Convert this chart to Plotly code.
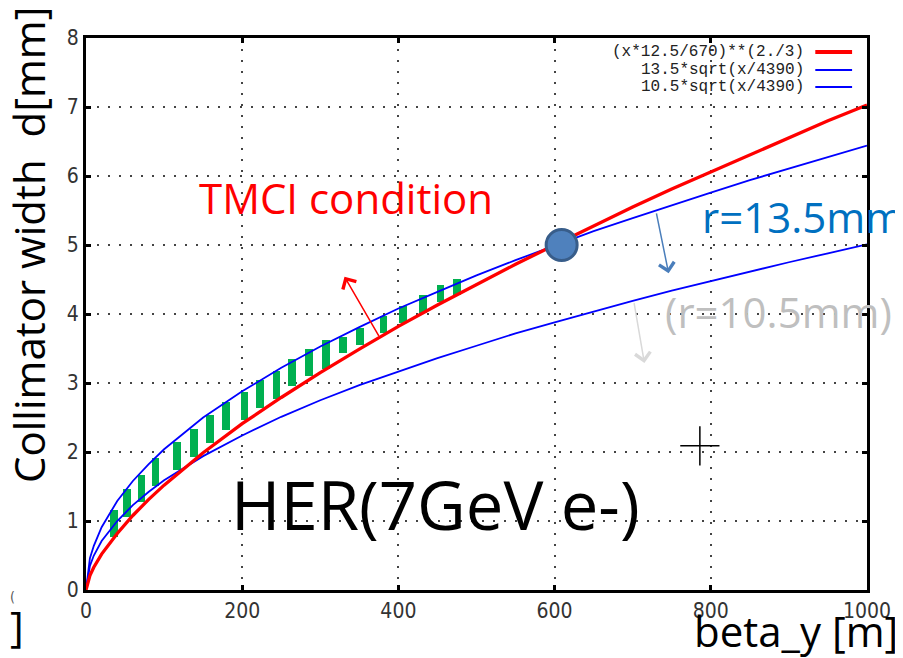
"""
Collimator width vs beta_y for HER (TMCI condition), gnuplot-style figure.
"""

import plotly.graph_objects as go

# --- curve samples ---
beta = [0, 5, 10, 20, 40, 60, 80, 100, 150, 200, 250, 300, 350, 400, 450,
        500, 550, 600, 650, 700, 750, 800, 850, 900, 950, 1000]
tmci = [0, 0.21, 0.33, 0.52, 0.82, 1.08, 1.31, 1.52, 1.99, 2.41, 2.79, 3.15,
        3.49, 3.82, 4.13, 4.43, 4.72, 5.00, 5.28, 5.55, 5.81, 6.06, 6.31,
        6.56, 6.80, 7.03]
r135 = [0, 0.46, 0.64, 0.91, 1.29, 1.58, 1.82, 2.04, 2.50, 2.88, 3.22, 3.53,
        3.81, 4.08, 4.32, 4.56, 4.78, 4.99, 5.20, 5.39, 5.58, 5.76, 5.94,
        6.11, 6.28, 6.44]
r105 = [0, 0.35, 0.50, 0.71, 1.00, 1.23, 1.42, 1.59, 1.94, 2.24, 2.51, 2.75,
        2.97, 3.17, 3.36, 3.54, 3.72, 3.88, 4.04, 4.19, 4.34, 4.48, 4.62,
        4.75, 4.88, 5.01]

# green hatch between the curves
bar_x = [36, 52, 71, 89, 116, 138, 159, 179, 203, 223, 244, 264, 286, 307,
         329, 351, 381, 406, 431, 454, 475]
bar_top = [1.16, 1.46, 1.67, 1.92, 2.14, 2.33, 2.54, 2.73, 2.87, 3.05, 3.17,
           3.35, 3.50, 3.62, 3.67, 3.80, 3.97, 4.12, 4.27, 4.42, 4.51]
bar_bottom = [0.77, 1.06, 1.27, 1.51, 1.74, 1.93, 2.13, 2.32, 2.46, 2.64,
              2.77, 2.95, 3.10, 3.21, 3.43, 3.55, 3.73, 3.87, 4.02, 4.18, 4.27]

cross_pt = (609, 5.0)
mouse_pt = (786, 2.09)

x_ticks = [0, 200, 400, 600, 800, 1000]
y_ticks = [0, 1, 2, 3, 4, 5, 6, 7, 8]

legend_labels = ['(x*12.5/670)**(2./3)', '13.5*sqrt(x/4390)', '10.5*sqrt(x/4390)']
legend_colors = ['#ff0000', '#0000ff', '#0000ff']

BIG = 'Open Sans, Lato, sans-serif'
GP = 'Liberation Sans Narrow, DejaVu Sans Condensed, Arial Narrow, sans-serif'
MONO = 'Liberation Mono, DejaVu Sans Mono, monospace'

fig = go.Figure()

fig.add_trace(go.Scatter(x=beta, y=r105, mode='lines',
                         line=dict(color='#0000ff', width=1.8)))
fig.add_trace(go.Scatter(x=beta, y=r135, mode='lines',
                         line=dict(color='#0000ff', width=1.8)))
fig.add_trace(go.Scatter(x=beta, y=tmci, mode='lines',
                         line=dict(color='#ff0000', width=3.3)))

fig.add_trace(go.Bar(
    x=bar_x,
    y=[t - b for t, b in zip(bar_top, bar_bottom)],
    base=bar_bottom,
    width=10,
    marker=dict(color='#00b050', line=dict(width=0)),
))

fig.add_trace(go.Scatter(
    x=[cross_pt[0]], y=[cross_pt[1]], mode='markers',
    marker=dict(symbol='circle', size=31, color='#4f81bd',
                line=dict(color='#385d8a', width=3)),
))
fig.add_trace(go.Scatter(
    x=[mouse_pt[0]], y=[mouse_pt[1]], mode='markers',
    marker=dict(symbol='cross-thin', size=28,
                line=dict(color='#000000', width=1.5)),
))

annotations = []

# arrows: (head_x, head_y, tail_x, tail_y, colour)
arrows = [
    (331, 4.54, 376, 3.66, '#ff0000'),
    (746, 4.59, 730, 5.48, '#4a7ebb'),
    (715, 3.29, 701.5, 4.18, '#d9d9d9'),
]
for hx, hy, tx, ty, col in arrows:
    annotations.append(dict(
        x=hx, y=hy, ax=tx, ay=ty, xref='x', yref='y', axref='x', ayref='y',
        text='', showarrow=True, arrowhead=4, arrowsize=2, arrowwidth=1.5,
        arrowcolor=col, standoff=0, startstandoff=0,
    ))


def label(text, x, y, size, color, xanchor='left', angle=0, font=BIG):
    annotations.append(dict(
        text=text, x=x, y=y, xref='paper', yref='paper', showarrow=False,
        xanchor=xanchor, yanchor='middle', textangle=angle,
        font=dict(family=font, size=size, color=color),
    ))


label('TMCI condition', 0.1427, 0.7107, 42, '#ff0000')
label('r=13.5mm', 0.786, 0.676, 42, '#0070c0')
label('(r=10.5mm)', 0.739, 0.504, 42, '#bfbfbf')
label('HER(7GeV e-)', 0.1834, 0.155, 67, '#000000')
label('beta_y [m]', 0.7758, -0.0737, 42, '#000000')
label('Collimator width  d[mm]', -0.0743, 0.625, 42, '#000000',
      xanchor='center', angle=-90)
label(']', -0.1, -0.0645, 42, '#000000')
label('(', -0.1, -0.0127, 14, '#555555', font=GP)

# gnuplot key, text left of the sample line
shapes = []
key_y = [0.9746, 0.942, 0.9112]
for txt, col, ky in zip(legend_labels, legend_colors, key_y):
    annotations.append(dict(
        text=txt, x=0.9223, y=ky, xref='paper', yref='paper', showarrow=False,
        xanchor='right', yanchor='middle',
        font=dict(family=MONO, size=16, color='#222222'),
    ))
    shapes.append(dict(
        type='line', xref='paper', yref='paper', x0=0.9338, x1=0.9809,
        y0=ky, y1=ky,
        line=dict(color=col, width=4 if col == '#ff0000' else 2),
    ))

axis_style = dict(
    showline=True, linecolor='#000000', linewidth=3, mirror='ticks',
    ticks='inside', ticklen=5, tickwidth=3, tickcolor='#000000',
    showgrid=True, gridcolor='#444444', gridwidth=1.5, griddash='2px,9px',
    zeroline=False, tickfont=dict(family=GP, size=21, color='#333333'),
)

fig.update_xaxes(range=[0, 1000], tickvals=x_ticks, **axis_style)
fig.update_yaxes(range=[0, 8], tickvals=y_ticks, **axis_style)

# page body adds an 8px offset, so the figure is 8px smaller each way
fig.update_layout(
    width=895, height=650,
    margin=dict(l=78, r=32, t=30, b=68),
    plot_bgcolor='white', paper_bgcolor='white',
    showlegend=False, bargap=0,
    annotations=annotations, shapes=shapes,
)

fig.write_html('out.html')
